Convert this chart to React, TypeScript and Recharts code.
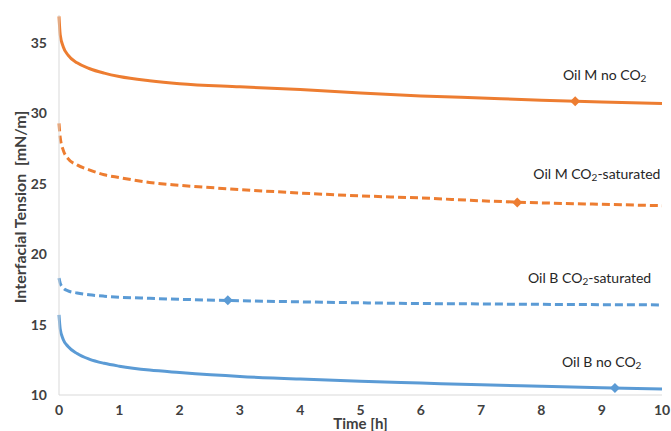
import React from "react";
import { LineChart, Line, XAxis, YAxis, ReferenceDot } from "recharts";

const times = [0, 0.02, 0.07, 0.15, 0.3, 0.5, 0.75, 1, 1.5, 2, 3, 4, 5, 6, 7, 8, 9, 10];
const oilMNoCO2 = [36.9, 35.6, 34.75, 34.15, 33.6, 33.2, 32.87, 32.63, 32.33, 32.12, 31.9, 31.7, 31.45, 31.25, 31.1, 30.95, 30.82, 30.72];
const oilMSat = [29.3, 28.3, 27.4, 26.8, 26.35, 26.0, 25.65, 25.45, 25.1, 24.9, 24.6, 24.35, 24.15, 24.0, 23.8, 23.65, 23.55, 23.45];
const oilBSat = [18.3, 17.95, 17.6, 17.4, 17.25, 17.12, 17.02, 16.95, 16.87, 16.8, 16.7, 16.62, 16.55, 16.5, 16.47, 16.44, 16.42, 16.4];
const oilBNoCO2 = [15.7, 14.7, 13.95, 13.45, 12.95, 12.55, 12.25, 12.05, 11.77, 11.6, 11.32, 11.13, 10.98, 10.85, 10.72, 10.62, 10.52, 10.42];

const xTicks = [0, 1, 2, 3, 4, 5, 6, 7, 8, 9, 10];
const yTicks = [10, 15, 20, 25, 30, 35];

const markers = [
  { t: 8.56, v: 30.88, color: "#ED7D31" },
  { t: 7.6, v: 23.67, color: "#ED7D31" },
  { t: 2.8, v: 16.73, color: "#5B9BD5" },
  { t: 9.22, v: 10.5, color: "#5B9BD5" },
];

const annotations = [
  { t: 9.05, v: 32.8, pre: "Oil M no CO", sub: "2", post: "" },
  { t: 8.92, v: 25.8, pre: "Oil M CO", sub: "2", post: "-saturated" },
  { t: 8.8, v: 18.35, pre: "Oil B CO", sub: "2", post: "-saturated" },
  { t: 9.0, v: 12.4, pre: "Oil B no CO", sub: "2", post: "" },
];

const rows = times.map((t, i) => ({
  t,
  mNo: oilMNoCO2[i],
  mSat: oilMSat[i],
  bSat: oilBSat[i],
  bNo: oilBNoCO2[i],
}));

const FONT = "Lato, 'Open Sans', sans-serif";
const TEXT = "#404040";

const Diamond = (props: any) => {
  const { cx, cy, fill } = props;
  const s = 5;
  return (
    <path
      d={`M${cx},${cy - s} L${cx + s},${cy} L${cx},${cy + s} L${cx - s},${cy} Z`}
      fill={fill}
      stroke="none"
    />
  );
};

const Annot = (props: any) => {
  const { cx, cy, a } = props;
  return (
    <text
      x={cx}
      y={cy}
      textAnchor="middle"
      dominantBaseline="central"
      fontFamily={FONT}
      fontSize={14}
      fill="#262626"
    >
      <tspan>{a.pre}</tspan>
      <tspan dy={4} fontSize={10}>{a.sub}</tspan>
      {a.post ? <tspan dy={-4}>{a.post}</tspan> : null}
    </text>
  );
};

const YLabel = (props: any) => {
  const vb = props.viewBox || { x: 0, y: 0, width: 0, height: 0 };
  const x = vb.x + 9;
  const y = vb.y + vb.height / 2 + 2;
  return (
    <text
      x={x}
      y={y}
      transform={`rotate(-90, ${x}, ${y})`}
      textAnchor="middle"
      dominantBaseline="central"
      fontFamily={FONT}
      fontSize={16}
      fontWeight="bold"
      fill={TEXT}
    >
      {"Interfacial Tension\u00A0\u00A0[mN/m]"}
    </text>
  );
};

export default function App() {
  return (
    <div style={{ position: "absolute", left: 0, top: 0, background: "#fff" }}>
      <LineChart
        width={671}
        height={431}
        data={rows}
        margin={{ top: 15, right: 9, bottom: 0, left: 10 }}
      >
        <XAxis
          dataKey="t"
          type="number"
          domain={[0, 10]}
          ticks={xTicks}
          tickLine={false}
          axisLine={{ stroke: "#D9D9D9", strokeWidth: 1 }}
          tick={{ fill: TEXT, fontSize: 14, fontWeight: "bold", fontFamily: FONT }}
          tickMargin={4}
          height={36}
          label={{
            value: "Time [h]",
            position: "insideBottom",
            offset: 2,
            fill: TEXT,
            fontSize: 15,
            fontWeight: "bold",
            fontFamily: FONT,
          }}
        />
        <YAxis
          type="number"
          domain={[10, 37]}
          ticks={yTicks}
          tickLine={false}
          axisLine={{ stroke: "#D9D9D9", strokeWidth: 1 }}
          tick={{ fill: TEXT, fontSize: 14, fontWeight: "bold", fontFamily: FONT }}
          tickMargin={6}
          width={49}
          label={<YLabel />}
        />
        <Line dataKey="mNo" type="monotone" stroke="#ED7D31" strokeWidth={3} dot={false} isAnimationActive={false} />
        <Line dataKey="mSat" type="monotone" stroke="#ED7D31" strokeWidth={3} strokeDasharray="8 4" dot={false} isAnimationActive={false} />
        <Line dataKey="bSat" type="monotone" stroke="#5B9BD5" strokeWidth={3} strokeDasharray="8 4" dot={false} isAnimationActive={false} />
        <Line dataKey="bNo" type="monotone" stroke="#5B9BD5" strokeWidth={3} dot={false} isAnimationActive={false} />
        {markers.map((m, i) => (
          <ReferenceDot
            key={`m${i}`}
            x={m.t}
            y={m.v}
            r={5}
            fill={m.color}
            shape={(p: any) => <Diamond cx={p.cx} cy={p.cy} fill={m.color} />}
          />
        ))}
        {annotations.map((a, i) => (
          <ReferenceDot
            key={`a${i}`}
            x={a.t}
            y={a.v}
            r={1}
            shape={(p: any) => <Annot cx={p.cx} cy={p.cy} a={a} />}
          />
        ))}
      </LineChart>
    </div>
  );
}
